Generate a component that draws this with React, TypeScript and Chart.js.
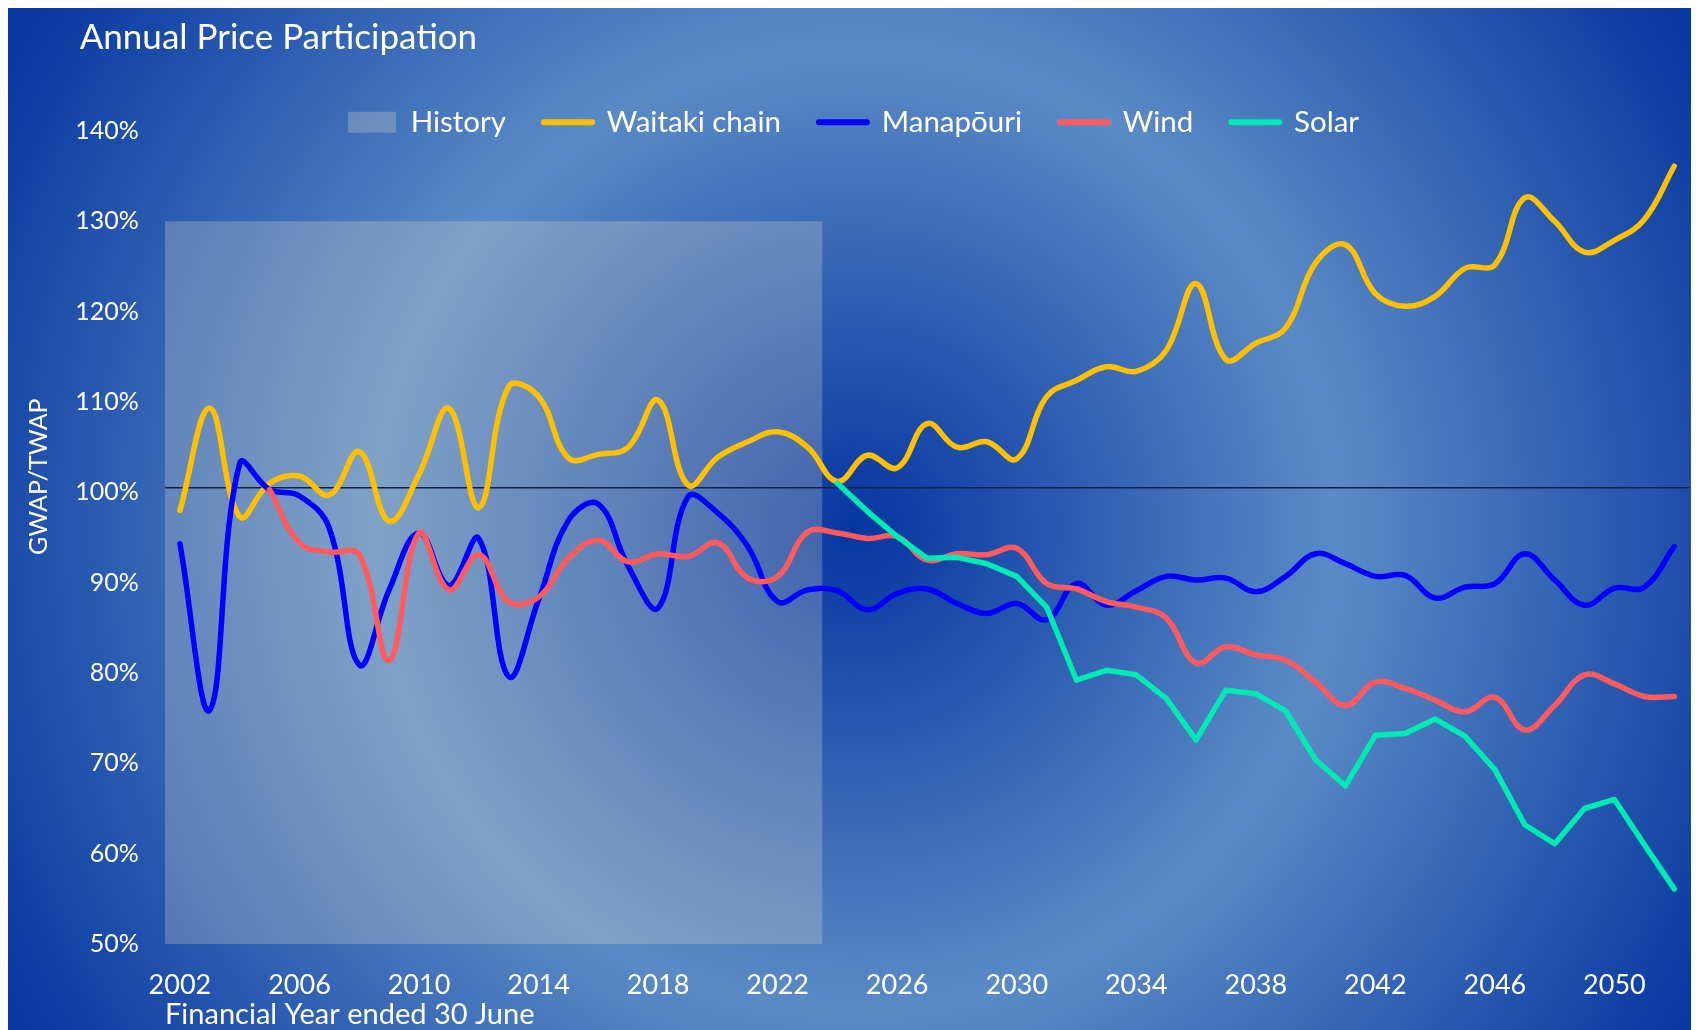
import { useEffect, useRef } from 'react';
import { Chart, registerables } from 'chart.js';

Chart.register(...registerables);

const years = [
  '2002', '2003', '2004', '2005', '2006', '2007', '2008', '2009', '2010', '2011',
  '2012', '2013', '2014', '2015', '2016', '2017', '2018', '2019', '2020', '2021',
  '2022', '2023', '2024', '2025', '2026', '2027', '2028', '2029', '2030', '2031',
  '2032', '2033', '2034', '2035', '2036', '2037', '2038', '2039', '2040', '2041',
  '2042', '2043', '2044', '2045', '2046', '2047', '2048', '2049', '2050', '2051', '2052',
];

const waitaki = [
  98.0, 109.3, 97.3, 101.0, 101.8, 99.7, 104.5, 96.8, 102.0, 109.3,
  98.3, 111.7, 110.6, 103.8, 104.2, 105.0, 110.2, 100.8, 103.9, 105.6,
  106.7, 105.0, 101.2, 104.1, 102.7, 107.6, 105.0, 105.6, 103.7, 110.6,
  112.4, 113.9, 113.4, 115.7, 123.1, 114.7, 116.5, 118.2, 125.4, 127.4,
  122.0, 120.6, 121.7, 124.8, 125.2, 132.6, 130.0, 126.6, 127.9, 130.2, 136.1,
];

const manapouri = [
  94.3, 75.9, 103.2, 100.3, 99.6, 96.0, 80.9, 89.2, 95.5, 89.7,
  94.9, 79.6, 88.1, 96.9, 98.7, 91.8, 87.2, 99.5, 97.7, 94.0,
  87.9, 89.2, 89.1, 87.0, 88.8, 89.3, 87.7, 86.6, 87.7, 85.9,
  89.9, 87.5, 89.1, 90.7, 90.3, 90.5, 89.0, 90.7, 93.2, 92.1,
  90.7, 90.8, 88.3, 89.5, 89.9, 93.2, 90.3, 87.5, 89.4, 89.5, 94.0,
];

const wind = [
  null, null, null, 100.3, 94.4, 93.4, 93.1, 81.4, 95.5, 89.2,
  93.1, 87.9, 88.4, 92.7, 94.7, 92.3, 93.2, 92.9, 94.4, 90.5,
  90.7, 95.6, 95.5, 94.9, 95.1, 92.5, 93.2, 93.1, 93.8, 89.9,
  89.3, 87.9, 87.3, 86.1, 81.1, 82.9, 82.0, 81.4, 79.0, 76.4,
  79.0, 78.3, 77.0, 75.7, 77.3, 73.7, 76.4, 79.8, 78.8, 77.4, 77.4,
];

const solar = [
  null, null, null, null, null, null, null, null, null, null,
  null, null, null, null, null, null, null, null, null, null,
  null, null, 101.0, 97.9, 95.1, 92.7, 92.8, 92.1, 90.7, 87.3,
  79.2, 80.3, 79.8, 77.2, 72.6, 78.1, 77.7, 75.8, 70.4, 67.5,
  73.1, 73.3, 74.9, 73.0, 69.3, 63.2, 61.1, 65.0, 66.0, 61.0, 56.1,
];

// History shaded period (edges of the 2002..2023 category slots) and its height
const historyEdges = [2001.5, 2023.5];
const historyTop = 130;
// Dark reference line drawn across the whole plot
const parityEdges = [2001.5, 2052.5];
const parityLevel = 100.5;

const yMin = 50;
const yMax = 140;
const yStep = 10;

const FONT = 'Lato';
const WHITE = '#ffffff';
const HISTORY_FILL = 'rgba(236, 230, 208, 0.25)';

const seriesStyle = [
  { label: 'Waitaki chain', data: waitaki, color: '#FFC000', tension: 0.4, order: 4 },
  { label: 'Manapōuri', data: manapouri, color: '#0000FF', tension: 0.4, order: 3 },
  { label: 'Wind', data: wind, color: '#FF5B5E', tension: 0.4, order: 2 },
  { label: 'Solar', data: solar, color: '#00EAB4', tension: 0, order: 1 },
];

// The legend sits partly over the plot area (as in the original); give its
// drawing box room below so the text descenders are not clipped.
const legendRoom = {
  id: 'legendRoom',
  afterLayout(chart: any) {
    const lg = chart.legend;
    if (lg) {
      lg.bottom = lg.top + 95;
      lg.height = 95;
    }
  },
};

export default function App() {
  const canvasRef = useRef<HTMLCanvasElement | null>(null);

  useEffect(() => {
    document.documentElement.style.overflow = 'hidden';
    document.body.style.overflow = 'hidden';
    const canvas = canvasRef.current;
    if (!canvas) return;

    const datasets: any[] = [
      {
        type: 'line',
        label: 'History',
        xAxisID: 'xh',
        data: [
          { x: historyEdges[0], y: historyTop },
          { x: historyEdges[1], y: historyTop },
        ],
        fill: 'start',
        backgroundColor: HISTORY_FILL,
        borderWidth: 0,
        pointRadius: 0,
        order: 6,
      },
      ...seriesStyle.map((s) => ({
        type: 'line',
        label: s.label,
        data: s.data,
        borderColor: s.color,
        backgroundColor: s.color,
        borderWidth: 5.5,
        borderCapStyle: 'round',
        borderJoinStyle: 'round',
        tension: s.tension,
        pointRadius: 0,
        pointHoverRadius: 0,
        fill: false,
        spanGaps: false,
        order: s.order,
      })),
      {
        type: 'line',
        label: 'parity',
        xAxisID: 'xh',
        data: [
          { x: parityEdges[0], y: parityLevel },
          { x: parityEdges[1], y: parityLevel },
        ],
        borderColor: '#12214c',
        borderWidth: 1.5,
        pointRadius: 0,
        fill: false,
        order: 5,
      },
    ];

    const chart = new Chart(canvas, {
      type: 'line',
      data: { labels: years, datasets },
      plugins: [legendRoom],
      options: {
        responsive: false,
        animation: false,
        events: [],
        layout: { padding: 0 },
        plugins: {
          tooltip: { enabled: false },
          title: {
            display: true,
            text: '        Annual Price Participation',
            align: 'start',
            color: WHITE,
            font: { family: FONT, size: 35, weight: 'normal', lineHeight: 1.2 },
            padding: { top: 9, bottom: 10.5 },
          },
          legend: {
            display: true,
            position: 'top',
            align: 'center',
            maxHeight: 61.5,
            labels: {
              color: WHITE,
              font: { family: FONT, size: 29.5 },
              usePointStyle: true,
              pointStyleWidth: 48,
              boxHeight: 21,
              padding: 38,
              generateLabels: (ch: any) => {
                const items: any[] = [];
                ch.data.datasets.forEach((ds: any, i: number) => {
                  if (ds.label === 'parity') return;
                  if (ds.label === 'History') {
                    items.push({
                      text: 'History',
                      fillStyle: HISTORY_FILL,
                      strokeStyle: 'rgba(0,0,0,0)',
                      lineWidth: 0,
                      pointStyle: 'rect',
                      hidden: false,
                      datasetIndex: i,
                      fontColor: WHITE,
                    });
                  } else {
                    items.push({
                      text: ds.label,
                      fillStyle: ds.borderColor,
                      strokeStyle: ds.borderColor,
                      lineWidth: 6,
                      lineCap: 'round',
                      pointStyle: 'line',
                      hidden: false,
                      datasetIndex: i,
                      fontColor: WHITE,
                    });
                  }
                });
                return items;
              },
            },
          },
        },
        scales: {
          x: {
            type: 'category',
            offset: true,
            grid: { display: false, drawTicks: false },
            border: { display: false },
            ticks: {
              color: WHITE,
              font: { family: FONT, size: 27 },
              padding: 24.8,
              autoSkip: false,
              maxRotation: 0,
              minRotation: 0,
              callback: function (this: any, value: any) {
                const lbl = String(this.getLabelForValue(value));
                return (Number(lbl) - 2002) % 4 === 0 ? lbl : '';
              },
            },
            title: {
              display: true,
              text: 'Financial Year ended 30 June',
              align: 'start',
              color: WHITE,
              font: { family: FONT, size: 29, lineHeight: 1 },
              padding: { top: 0, bottom: 1 },
            },
            afterFit: (scale: any) => {
              scale.height = 86;
            },
          },
          xh: {
            type: 'linear',
            display: false,
            min: parityEdges[0],
            max: parityEdges[1],
          },
          y: {
            type: 'linear',
            min: yMin,
            max: yMax,
            grid: { display: false, drawTicks: false },
            border: { display: false },
            ticks: {
              stepSize: yStep,
              color: WHITE,
              font: { family: FONT, size: 25 },
              padding: 26.3,
              callback: (v: any) => `${v}%`,
            },
            title: {
              display: true,
              text: '                   GWAP/TWAP',
              color: WHITE,
              font: { family: FONT, size: 25 },
              padding: { top: 15.5, bottom: 0 },
            },
            afterFit: (scale: any) => {
              scale.width = 157;
            },
          },
        },
      } as any,
    });

    return () => chart.destroy();
  }, []);

  return (
    <div
      style={{
        width: 1691,
        height: 1022,
        background:
          'radial-gradient(circle 960px at 847px 522px, #0535a0 0px, #5b8bc5 480px, #0838a0 960px)',
      }}
    >
      <canvas ref={canvasRef} width={1691} height={1022} style={{ display: 'block' }} />
    </div>
  );
}
